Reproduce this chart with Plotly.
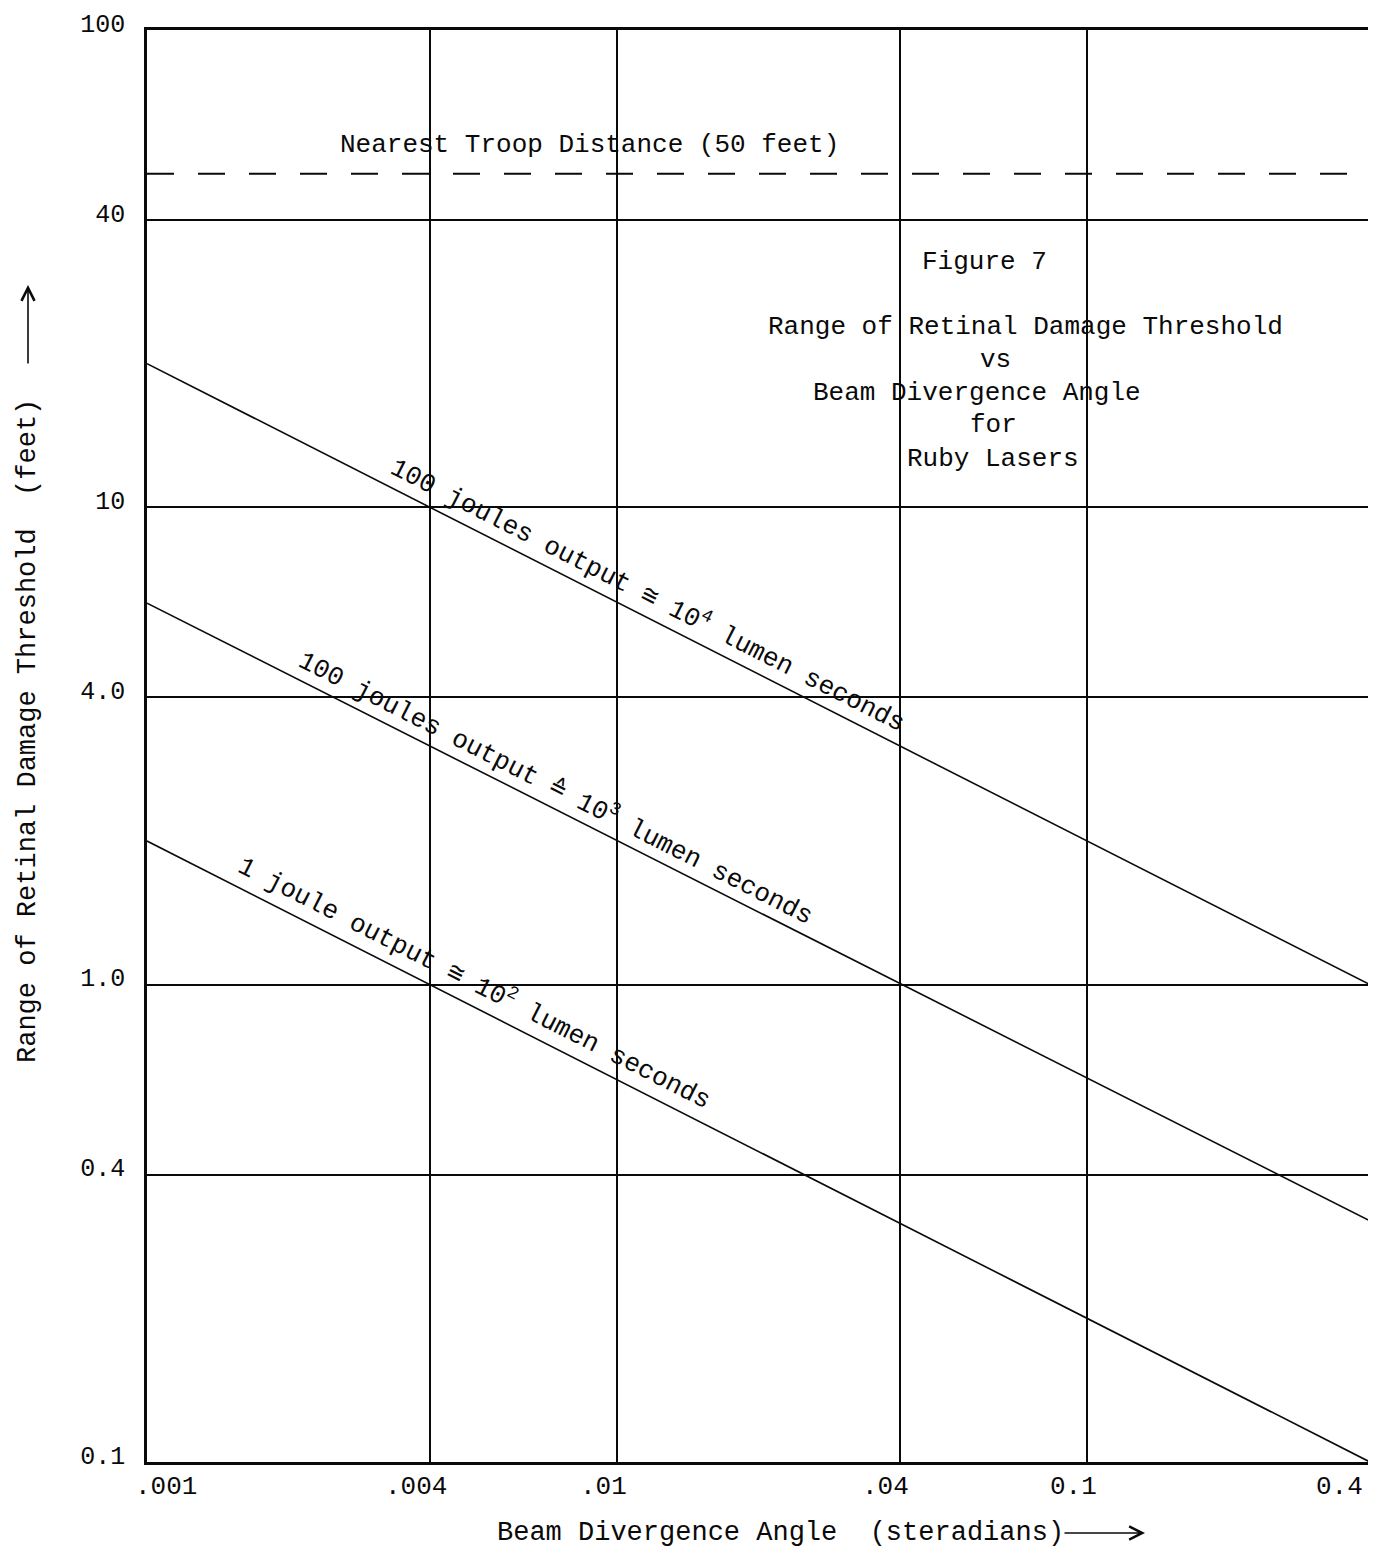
import numpy as np
import plotly.graph_objects as go

# ---------------- data ----------------
angle_x = [0.001, 0.4]                 # beam divergence angle (steradians)
range_100J_1e4 = [20.0, 1.0]           # 100 joules ~ 10^4 lumen seconds
range_100J_1e3 = [6.3, 0.32]           # 100 joules ~ 10^3 lumen seconds
range_1J_1e2 = [2.0, 0.1]              # 1 joule ~ 10^2 lumen seconds
troop_x = [0.001, 0.4]
troop_distance = [50, 50]              # nearest troop distance (feet)

x_tick_vals = [0.001, 0.004, 0.01, 0.04, 0.1, 0.4]
x_tick_text = [".001", ".004", ".01", ".04", "0.1", "0.4"]
y_tick_vals = [0.1, 0.4, 1, 4, 10, 40, 100]
y_tick_text = ["0.1", "0.4", "1.0", "4.0", "10", "40", "100"]

line_labels = [
    "100 joules output \u2245 10<sup>4</sup> lumen seconds",
    "100 joules output \u2259 10<sup>3</sup> lumen seconds",
    "1 joule output \u2245 10<sup>2</sup> lumen seconds",
]
title_lines = ["Figure 7", "Range of Retinal Damage Threshold", "vs",
               "Beam Divergence Angle", "for", "Ruby Lasers"]

# ---------------- styling ----------------
FONT = "Liberation Mono, Courier New, monospace"
INK = "#0a0a0a"
W, H = 1376, 1558
OFF = 8                      # page body margin
L, R, T, B = 147, 1370, 30, 1462   # target plot-area pixels in the screenshot


def px(x):
    return (x - L) / (R - L)


def py(y):
    return (B - y) / (B - T)


fig = go.Figure()

for ys in (range_100J_1e4, range_100J_1e3, range_1J_1e2):
    fig.add_trace(go.Scatter(x=angle_x, y=ys, mode="lines",
                             line=dict(color=INK, width=1.6),
                             showlegend=False, hoverinfo="skip"))

fig.add_trace(go.Scatter(x=troop_x, y=troop_distance, mode="lines",
                         line=dict(color=INK, width=2, dash="27px,24px"),
                         showlegend=False, hoverinfo="skip"))

ann = []
# x tick labels
for i, (v, t) in enumerate(zip(x_tick_vals, x_tick_text)):
    if i == 0:
        xa, xs = "left", -14
    elif i == len(x_tick_vals) - 1:
        xa, xs = "right", -5
    else:
        xa, xs = "center", -14
    ann.append(dict(x=np.log10(v), xref="x", y=0, yref="paper", text=t,
                    xanchor=xa, yanchor="top", xshift=xs, yshift=-8,
                    showarrow=False, font=dict(family=FONT, size=26, color=INK)))

# rotated line labels (centres measured in pixels)
label_centres = [(648, 594), (556, 787), (475, 982)]
for txt, (cx, cy) in zip(line_labels, label_centres):
    ann.append(dict(x=px(cx), y=py(cy), xref="paper", yref="paper", text=txt,
                    textangle=26.9, showarrow=False, xanchor="center", yanchor="middle",
                    font=dict(family=FONT, size=26, color=INK)))

# troop distance label
ann.append(dict(x=px(589), y=py(145), xref="paper", yref="paper",
                text="Nearest Troop Distance (50 feet)", showarrow=False,
                xanchor="center", yanchor="middle",
                font=dict(family=FONT, size=26, color=INK)))

# title block
title_pos = [(984, 262), (1025, 327), (995, 360), (977, 393), (993, 425), (993, 459)]
for txt, (cx, cy) in zip(title_lines, title_pos):
    ann.append(dict(x=px(cx), y=py(cy), xref="paper", yref="paper", text=txt,
                    showarrow=False, xanchor="center", yanchor="middle",
                    font=dict(family=FONT, size=26, color=INK)))

# axis titles
ann.append(dict(x=px(495), y=py(1533), xref="paper", yref="paper",
                text="Beam Divergence Angle  (steradians)", showarrow=False,
                xanchor="left", yanchor="middle",
                font=dict(family=FONT, size=27, color=INK)))
ann.append(dict(x=px(1145), y=py(1533), xref="paper", yref="paper", text="",
                showarrow=True, ax=-82, ay=0, arrowhead=5, arrowsize=1.6,
                arrowwidth=1.6, arrowcolor=INK))
ann.append(dict(x=px(28), y=py(731), xref="paper", yref="paper",
                text="Range of Retinal Damage Threshold  (feet)", showarrow=False,
                textangle=-90, xanchor="center", yanchor="middle",
                font=dict(family=FONT, size=27, color=INK)))
ann.append(dict(x=px(28), y=py(285), xref="paper", yref="paper", text="",
                showarrow=True, ax=0, ay=80, arrowhead=5, arrowsize=1.6,
                arrowwidth=1.6, arrowcolor=INK))

fig.update_layout(
    width=W - OFF, height=H - OFF,
    margin=dict(l=L - OFF, r=W - R, t=T - OFF, b=H - B, autoexpand=False),
    paper_bgcolor="#ffffff", plot_bgcolor="#ffffff",
    annotations=ann,
    showlegend=False,
)
fig.update_xaxes(type="log", range=[np.log10(x_tick_vals[0]), np.log10(x_tick_vals[-1])],
                 tickvals=x_tick_vals, ticktext=x_tick_text, showticklabels=False,
                 showgrid=True, gridcolor=INK, gridwidth=2,
                 showline=True, linecolor=INK, linewidth=2.5, mirror=True,
                 zeroline=False, ticks="")
fig.update_yaxes(type="log", range=[np.log10(y_tick_vals[0]), np.log10(y_tick_vals[-1])],
                 tickvals=y_tick_vals, ticktext=y_tick_text,
                 tickfont=dict(family=FONT, size=25, color=INK),
                 ticklabelshift=-7, ticklabelstandoff=14, ticklabeloverflow="allow",
                 showgrid=True, gridcolor=INK, gridwidth=2,
                 showline=True, linecolor=INK, linewidth=2.5, mirror=True,
                 zeroline=False, ticks="")

fig.write_html("out.html")
